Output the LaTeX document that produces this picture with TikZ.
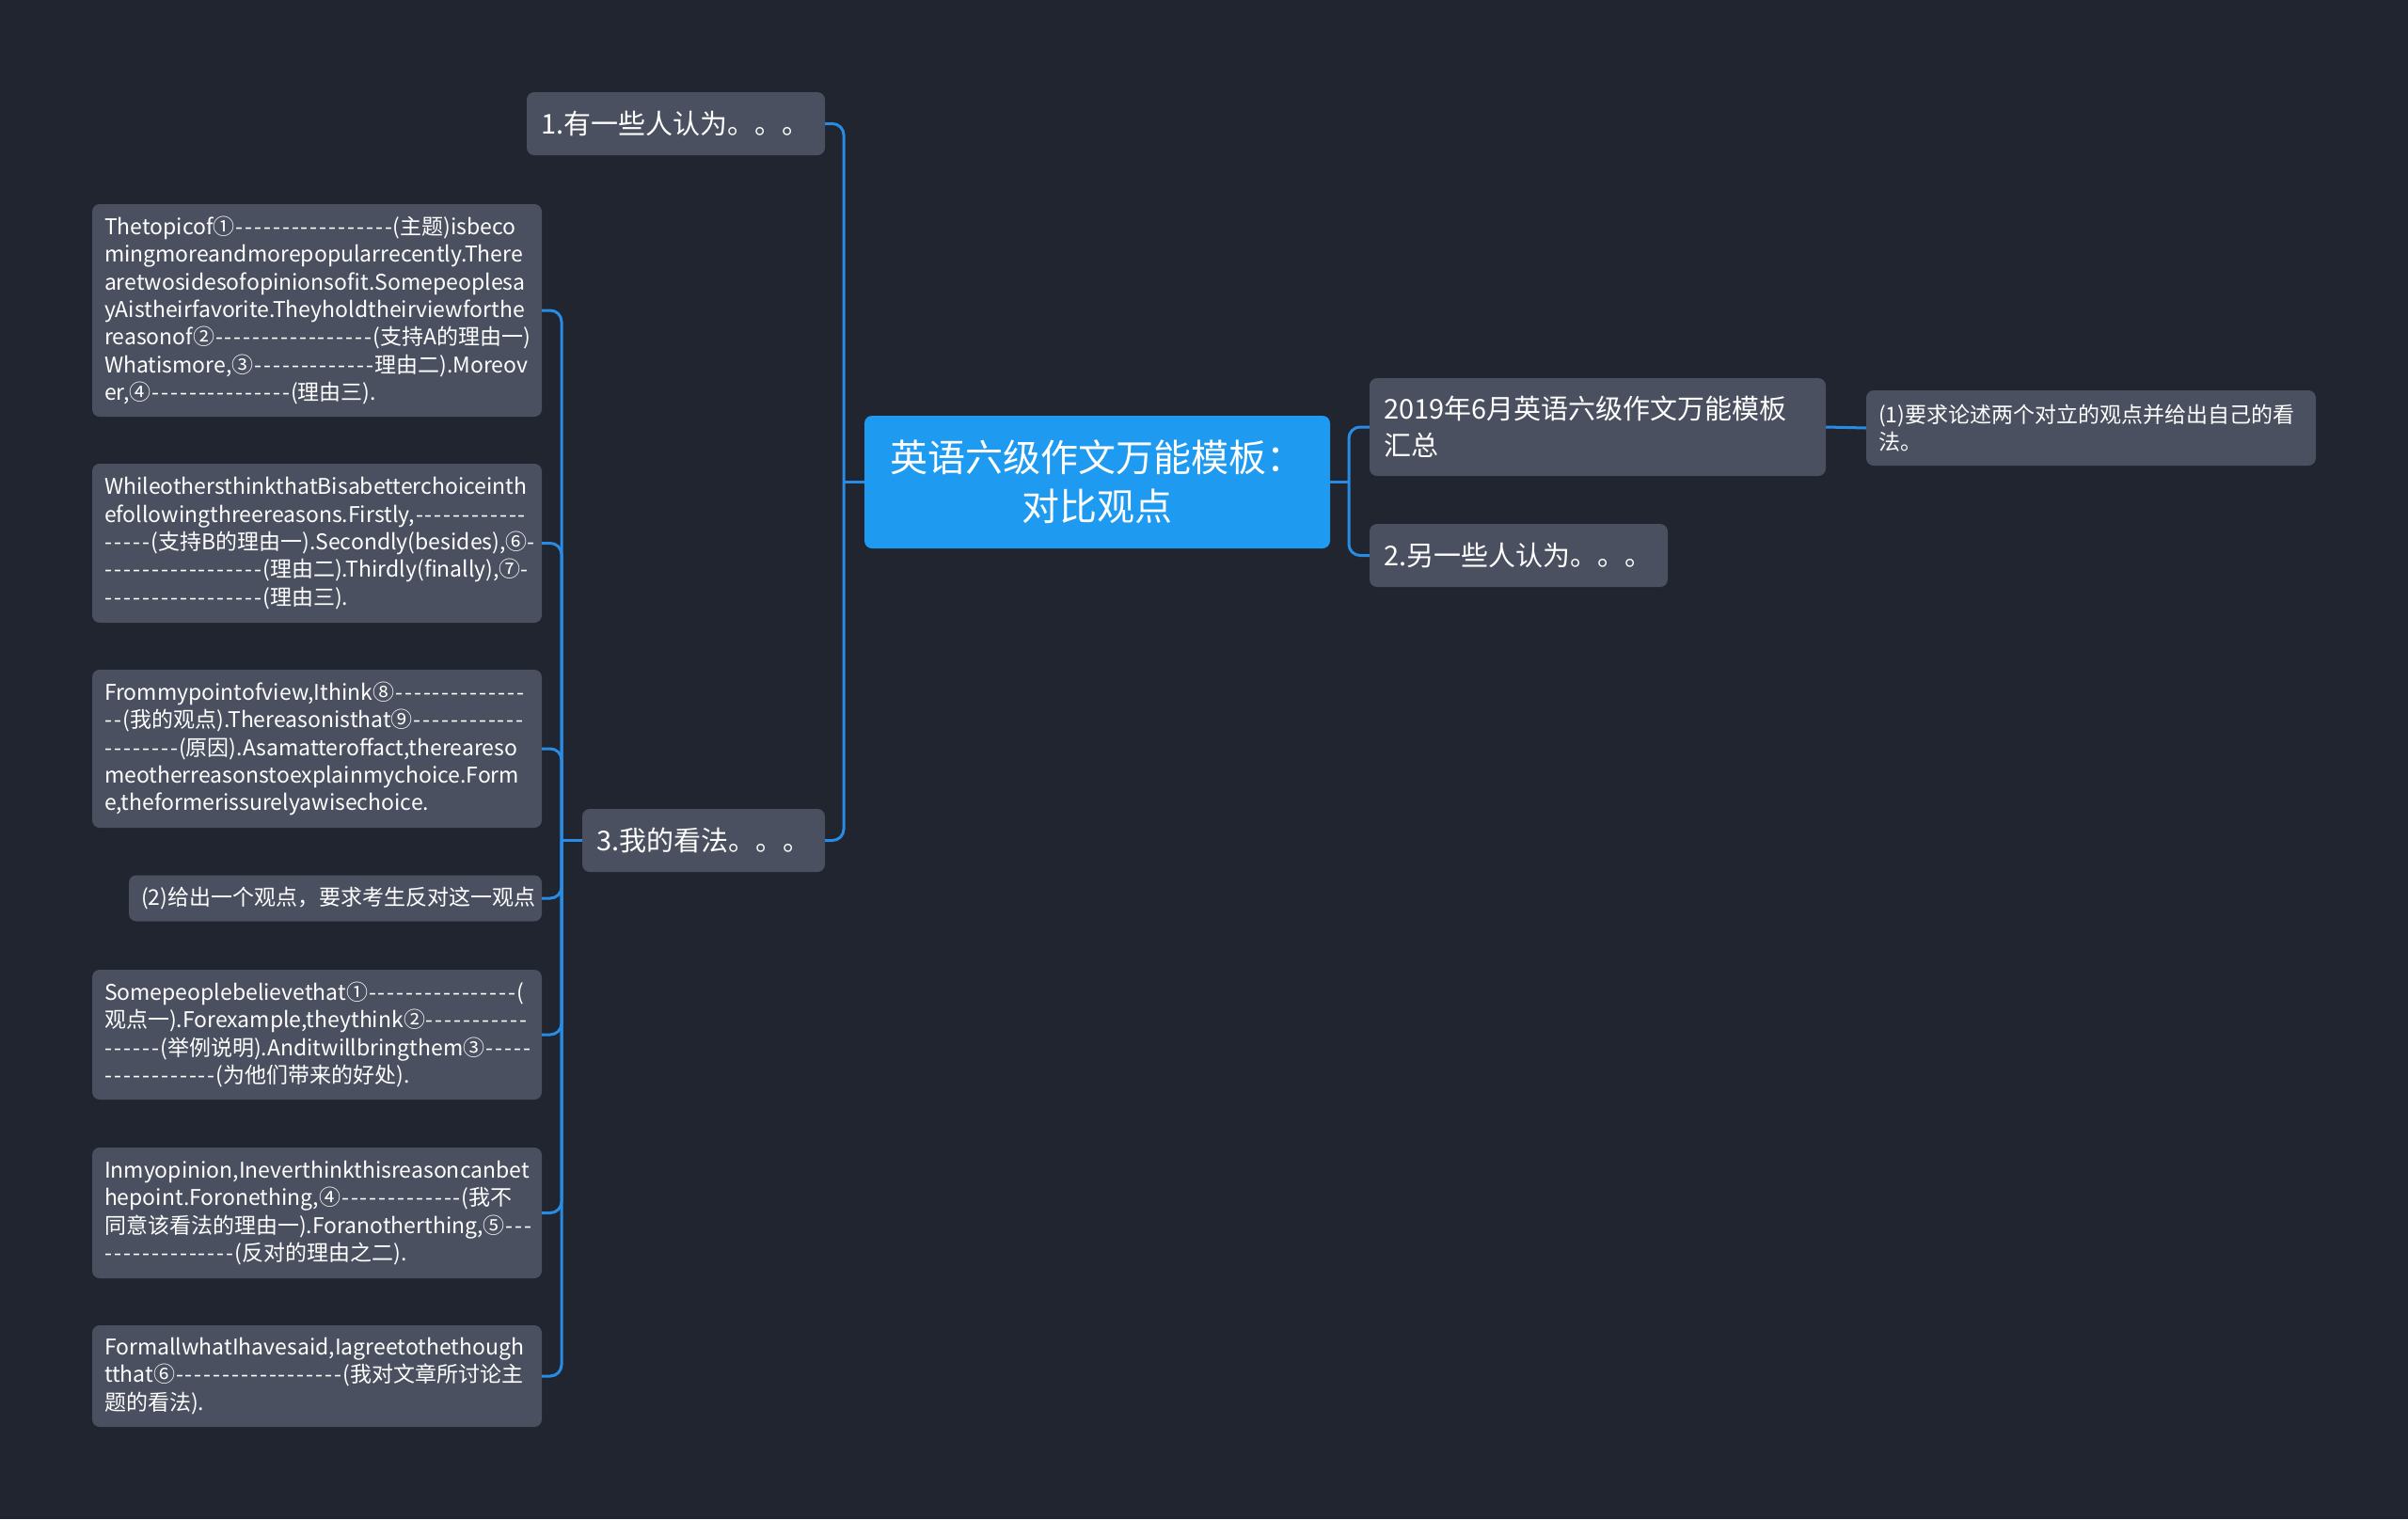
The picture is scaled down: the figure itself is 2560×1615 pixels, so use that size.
\documentclass[tikz,border=0pt]{standalone}
\usepackage{fontspec}
\setmainfont{Noto Sans CJK SC}[Ligatures=TeXOff]
\definecolor{bg}{RGB}{33,37,48}
\definecolor{boxc}{RGB}{74,80,96}
\definecolor{rootc}{RGB}{30,154,240}
\definecolor{linec}{RGB}{40,140,228}
\newcount\dcnt
\newcommand\dashes[1]{\leavevmode\dcnt=#1\relax\loop\ifnum\dcnt>0 \hbox to 9.9pt{\hss-\hss}\advance\dcnt by -1 \repeat}
\tikzset{
 box/.style={fill=boxc, rounded corners=8pt, text=white, inner ysep=0pt, align=left, anchor=center},
 leaf/.style={box, font={\fontsize{23}{29.4}\selectfont}, inner xsep=13pt},
 lvl/.style={box, font={\fontsize{29}{39}\selectfont}, inner xsep=15pt},
 conn/.style={draw=linec, line width=3pt, rounded corners=12pt},
}
\begin{document}
\hyphenpenalty=10000 \exhyphenpenalty=10000
\begin{tikzpicture}[x=1pt,y=-1pt]
\useasboundingbox (0,0) rectangle (2560,1615);
\fill[bg] (0,0) rectangle (2560,1615);

\node[box, fill=rootc, font={\fontsize{40}{52}\selectfont}, align=center, minimum width=495pt, minimum height=141pt] (root) at (1166.5,512.5) {英语六级作文万能模板：\\对比观点};

\node[lvl, minimum width=485pt, minimum height=104pt, text width=455pt] (r1) at (1698.5,454) {2019年6月英语六级作文万能模板\\汇总};
\node[lvl, minimum width=317pt, minimum height=67pt, text width=287pt] (r2) at (1614.5,590.5) {2.另一些人认为。。。};
\node[leaf, minimum width=478pt, minimum height=80pt, text width=452pt] (r11) at (2223,455) {(1)要求论述两个对立的观点并给出自己的看\\法。};

\node[lvl, minimum width=317pt, minimum height=67pt, text width=287pt] (l1) at (718.5,131.5) {1.有一些人认为。。。};
\node[lvl, minimum width=258pt, minimum height=67pt, text width=228pt] (l3) at (748,893.5) {3.我的看法。。。};

\node[leaf, minimum width=478pt, minimum height=226pt, text width=452pt] (A) at (337,330) {Thetopicof①\dashes{17}(主题)isbeco\\mingmoreandmorepopularrecently.There\\aretwosidesofopinionsofit.Somepeoplesa\\yAistheirfavorite.Theyholdtheirviewforthe\\reasonof②\dashes{17}(支持A的理由一)\\Whatismore,③\dashes{13}理由二).Moreov\\er,④\dashes{15}(理由三).};
\node[leaf, minimum width=478pt, minimum height=169pt, text width=452pt] (B) at (337,577.5) {WhileothersthinkthatBisabetterchoiceinth\\efollowingthreereasons.Firstly,\dashes{12}\\\dashes{5}(支持B的理由一).Secondly(besides),⑥-\\\dashes{17}(理由二).Thirdly(finally),⑦-\\\dashes{17}(理由三).};
\node[leaf, minimum width=478pt, minimum height=168pt, text width=452pt] (C) at (337,796) {Frommypointofview,Ithink⑧\dashes{14}\\\dashes{2}(我的观点).Thereasonisthat⑨\dashes{12}\\\dashes{8}(原因).Asamatteroffact,thereareso\\meotherreasonstoexplainmychoice.Form\\e,theformerissurelyawisechoice.};
\node[leaf, minimum width=439pt, minimum height=49pt, text width=413pt] (D) at (356.5,955) {(2)给出一个观点，要求考生反对这一观点};
\node[leaf, minimum width=478pt, minimum height=138pt, text width=452pt] (E) at (337,1100) {Somepeoplebelievethat①\dashes{16}(\\观点一).Forexample,theythink②\dashes{11}\\\dashes{6}(举例说明).Anditwillbringthem③\dashes{5}\\\dashes{12}(为他们带来的好处).};
\node[leaf, minimum width=478pt, minimum height=139pt, text width=452pt] (F) at (337,1289.5) {Inmyopinion,Ineverthinkthisreasoncanbet\\hepoint.Foronething,④\dashes{13}(我不\\同意该看法的理由一).Foranotherthing,⑤\dashes{3}\\\dashes{14}(反对的理由之二).};
\node[leaf, minimum width=478pt, minimum height=108pt, text width=452pt] (G) at (337,1463) {FormallwhatIhavesaid,Iagreetothethough\\tthat⑥\dashes{18}(我对文章所讨论主\\题的看法).};

\coordinate (tL) at (897,512.5);
\coordinate (tR) at (1434,512.5);
\coordinate (tLL) at (597,893.5);

\draw[conn] (root.west) -- (tL);
\draw[conn] (l1.east) -| (tL) |- (l3.east);
\draw[conn] (root.east) -- (tR);
\draw[conn] (r1.west) -| (tR) |- (r2.west);
\draw[conn] (r1.east) -- (r11.west);

\draw[conn] (l3.west) -- (tLL);
\draw[conn] (A.east) -| (tLL) |- (G.east);
\draw[conn] (B.east) -| (tLL);
\draw[conn] (C.east) -| (tLL);
\draw[conn] (D.east) -| (tLL);
\draw[conn] (E.east) -| (tLL);
\draw[conn] (F.east) -| (tLL);
\end{tikzpicture}
\end{document}
